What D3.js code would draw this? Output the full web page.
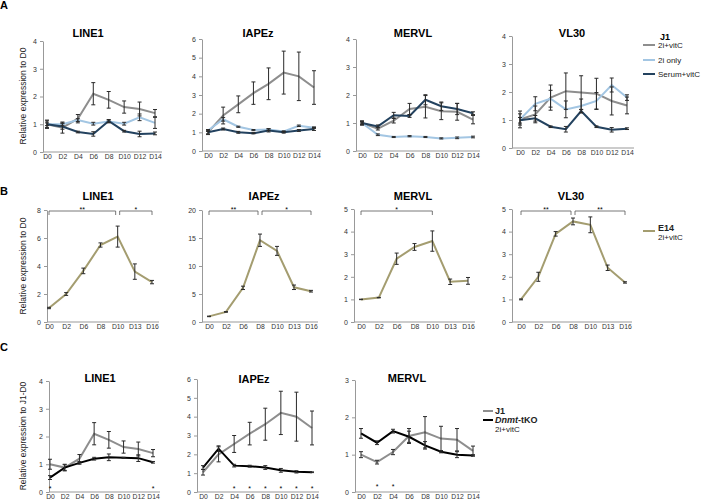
<!DOCTYPE html>
<html><head><meta charset="utf-8">
<script src="https://cdn.jsdelivr.net/npm/d3@7"></script>
<style>
body{margin:0;background:#fff}
text{font-family:"Liberation Sans",Arial,sans-serif}
</style>
</head><body>
<svg id="fig" width="701" height="502"></svg>
<script>
// categories
const daysA = ["D0","D2","D4","D6","D8","D10","D12","D14"];
const daysB = ["D0","D2","D6","D8","D10","D13","D16"];

// panel A: J1 in three conditions
const aLine1Vit = [1.0,0.88,1.2,2.1,1.88,1.62,1.55,1.4];
const aLine1VitErr = [0.15,0.2,0.15,0.4,0.3,0.22,0.25,0.13];
const aLine1Only = [1.0,1.0,1.15,1.02,1.1,1.02,1.25,1.05];
const aLine1OnlyErr = [0.05,0.05,0.05,0.05,0.05,0.05,0.12,0.2];
const aLine1Serum = [1.0,0.92,0.72,0.65,1.12,0.75,0.65,0.67];
const aLine1SerumErr = [0.12,0.1,0.03,0.08,0.05,0.03,0.1,0.05];

const aIapVit = [1.0,1.9,2.5,3.1,3.6,4.2,4.0,3.4];
const aIapVitErr = [0.12,0.45,0.45,0.6,0.85,1.15,1.3,0.9];
const aIapOnly = [1.1,1.7,1.3,1.12,1.15,1.05,1.35,1.25];
const aIapOnlyErr = [0.05,0.1,0.03,0.03,0.05,0.03,0.04,0.04];
const aIapSerum = [1.0,1.18,1.0,0.95,1.1,1.0,1.1,1.18];
const aIapSerumErr = [0.08,0.05,0.05,0.03,0.08,0.04,0.05,0.08];

const aMerVit = [1.0,0.8,1.08,1.5,1.58,1.42,1.4,1.12];
const aMerVitErr = [0.05,0.05,0.08,0.2,0.4,0.3,0.3,0.15];
const aMerOnly = [1.0,0.58,0.5,0.53,0.5,0.45,0.47,0.5];
const aMerOnlyErr = [0.03,0.03,0.02,0.02,0.02,0.02,0.03,0.03];
const aMerSerum = [1.0,0.88,1.28,1.25,1.83,1.6,1.5,1.35];
const aMerSerumErr = [0.08,0.05,0.1,0.05,0.18,0.15,0.2,0.05];

const aVlVit = [1.02,1.2,1.8,2.03,1.98,1.94,1.68,1.52];
const aVlVitErr = [0.3,0.3,0.45,0.65,0.6,0.55,0.5,0.3];
const aVlOnly = [1.02,1.58,1.76,1.38,1.5,1.68,2.25,1.8];
const aVlOnlyErr = [0.2,0.25,0.3,0.3,0.25,0.3,0.25,0.1];
const aVlSerum = [0.99,1.06,0.76,0.67,1.32,0.76,0.65,0.69];
const aVlSerumErr = [0.1,0.1,0.03,0.1,0.05,0.03,0.08,0.03];

// panel B: E14 2i+vitC
const bLine1 = [1.0,2.0,3.65,5.5,6.1,3.6,2.85];
const bLine1Err = [0.05,0.1,0.2,0.15,0.75,0.55,0.12];
const bIap = [1.0,1.8,6.1,14.6,12.7,6.2,5.5];
const bIapErr = [0.05,0.05,0.3,1.1,0.8,0.4,0.15];
const bMer = [1.0,1.08,2.8,3.32,3.58,1.78,1.82];
const bMerErr = [0.01,0.01,0.25,0.15,0.45,0.12,0.15];
const bVl = [1.0,2.0,3.9,4.45,4.3,2.4,1.75];
const bVlErr = [0.02,0.2,0.1,0.15,0.35,0.12,0.03];

const bLine1Sig = [["D0","D10","**"],["D10","D16","*"]];
const bIapSig = [["D0","D8","**"],["D8","D16","*"]];
const bMerSig = [["D0","D10","*"]];
const bVlSig = [["D0","D8","**"],["D8","D16","**"]];

// panel C: J1 vs Dnmt-tKO
const cLine1J1 = [1.0,0.88,1.2,2.1,1.88,1.62,1.55,1.4];
const cLine1J1Err = [0.18,0.12,0.15,0.4,0.3,0.22,0.25,0.13];
const cLine1Tko = [0.52,0.88,1.05,1.2,1.25,1.23,1.22,1.07];
const cLine1TkoErr = [0.07,0.1,0.05,0.05,0.12,0.02,0.12,0.03];
const cIapJ1 = [1.05,2.0,2.55,3.1,3.6,4.2,4.0,3.4];
const cIapJ1Err = [0.15,0.4,0.45,0.6,0.85,1.15,1.3,0.9];
const cIapTko = [1.3,2.3,1.4,1.37,1.3,1.15,1.07,1.05];
const cIapTkoErr = [0.1,0.15,0.07,0.05,0.1,0.1,0.06,0.02];
const cMerJ1 = [1.0,0.8,1.07,1.5,1.6,1.43,1.4,1.1];
const cMerJ1Err = [0.08,0.05,0.07,0.2,0.42,0.33,0.3,0.13];
const cMerTko = [1.57,1.32,1.63,1.48,1.25,1.08,1.0,0.98];
const cMerTkoErr = [0.13,0.05,0.05,0.15,0.1,0.03,0.08,0.02];

const cLine1Stars = ["D0","D14"];
const cIapStars = ["D4","D6","D8","D10","D12","D14"];
const cMerStars = ["D2","D4"];

const col = {vit:"#8e8e8e", only:"#a3c6e3", serum:"#23425f", olive:"#a49d70", tko:"#000"};

const svg = d3.select("#fig");

function drawChart(c) {
    const x = d3.scalePoint().domain(c.days).range(c.xr);
    const y = d3.scaleLinear().domain([0, c.max]).range([c.y0, c.yTop]);
    const g = svg.append("g");

    // y axis
    const ya = g.append("g").attr("transform", `translate(${c.ax},0)`)
        .call(d3.axisLeft(y).tickValues(c.ticks).tickFormat(d3.format("d"))
            .tickSize(3).tickPadding(3).tickSizeOuter(0));
    ya.select(".domain").attr("stroke", "#999");
    ya.selectAll(".tick line").attr("stroke", "#999");
    ya.selectAll("text").attr("font-size", 7).attr("fill", "#333");

    // x axis, line drawn from y axis to past last point
    const xa = g.append("g").attr("transform", `translate(0,${c.y0})`)
        .call(d3.axisBottom(x).tickSize(0).tickPadding(2.5));
    xa.select(".domain").remove();
    xa.selectAll("text").attr("font-size", 6.8).attr("fill", "#333");
    g.append("line").attr("x1", c.ax).attr("x2", c.xr[1] + 7)
        .attr("y1", c.y0).attr("y2", c.y0).attr("stroke", "#999");

    g.append("text").attr("x", c.tx).attr("y", c.ty).attr("text-anchor", "middle")
        .attr("font-size", 11).attr("font-weight", "bold").text(c.title);

    const line = d3.line().x((d, i) => x(c.days[i])).y(d => y(d));
    c.series.forEach(s => {
        g.append("path").datum(s.v).attr("d", line).attr("fill", "none")
            .attr("stroke", s.color).attr("stroke-width", s.w || 2);
    });
    c.series.forEach(s => {
        const eb = g.append("g").attr("stroke", "#2a2a2a").attr("stroke-width", 1);
        s.v.forEach((v, i) => {
            const xi = x(c.days[i]), lo = y(v - s.e[i]), hi = y(v + s.e[i]);
            eb.append("line").attr("x1", xi).attr("x2", xi).attr("y1", lo).attr("y2", hi);
            eb.append("line").attr("x1", xi - 2).attr("x2", xi + 2).attr("y1", lo).attr("y2", lo);
            eb.append("line").attr("x1", xi - 2).attr("x2", xi + 2).attr("y1", hi).attr("y2", hi);
        });
    });

    // significance brackets
    (c.sig || []).forEach(([a, b, lab], k) => {
        const x1 = x(a) + (k > 0 ? 2 : 0), x2 = x(b) - (k === 0 && c.sig.length > 1 ? 2 : 0);
        g.append("path").attr("fill", "none").attr("stroke", "#555").attr("stroke-width", 0.8)
            .attr("d", `M${x1},${c.sigY + 4}V${c.sigY}H${x2}V${c.sigY + 4}`);
        g.append("text").attr("x", (x1 + x2) / 2).attr("y", c.sigY + 1).attr("text-anchor", "middle")
            .attr("font-size", 7).text(lab);
    });
    (c.stars || []).forEach(d => {
        g.append("text").attr("x", x(d)).attr("y", c.starY).attr("text-anchor", "middle")
            .attr("font-size", 7).text("*");
    });
}

const charts = [
    {title:"LINE1", tx:88, ty:37, days:daysA, max:4, ticks:[0,1,2,3,4], ax:43, xr:[47,155], y0:152, yTop:41,
     series:[{v:aLine1Vit,e:aLine1VitErr,color:col.vit},{v:aLine1Only,e:aLine1OnlyErr,color:col.only},{v:aLine1Serum,e:aLine1SerumErr,color:col.serum}]},
    {title:"IAPEz", tx:258, ty:37, days:daysA, max:6, ticks:[0,1,2,3,4,5,6], ax:202, xr:[208,314], y0:151, yTop:39,
     series:[{v:aIapVit,e:aIapVitErr,color:col.vit},{v:aIapOnly,e:aIapOnlyErr,color:col.only},{v:aIapSerum,e:aIapSerumErr,color:col.serum}]},
    {title:"MERVL", tx:413, ty:37, days:daysA, max:4, ticks:[0,1,2,3,4], ax:356, xr:[362,473], y0:151, yTop:39,
     series:[{v:aMerVit,e:aMerVitErr,color:col.vit},{v:aMerOnly,e:aMerOnlyErr,color:col.only},{v:aMerSerum,e:aMerSerumErr,color:col.serum}]},
    {title:"VL30", tx:572, ty:37, days:daysA, max:4, ticks:[0,1,2,3,4], ax:512, xr:[520,627], y0:148, yTop:36,
     series:[{v:aVlVit,e:aVlVitErr,color:col.vit},{v:aVlOnly,e:aVlOnlyErr,color:col.only},{v:aVlSerum,e:aVlSerumErr,color:col.serum}]},

    {title:"LINE1", tx:98, ty:200, days:daysB, max:8, ticks:[0,2,4,6,8], ax:47, xr:[49,152], y0:322, yTop:210,
     series:[{v:bLine1,e:bLine1Err,color:col.olive}], sig:bLine1Sig, sigY:211},
    {title:"IAPEz", tx:264, ty:200, days:daysB, max:20, ticks:[0,5,10,15,20], ax:202, xr:[209,311], y0:322, yTop:210,
     series:[{v:bIap,e:bIapErr,color:col.olive}], sig:bIapSig, sigY:211},
    {title:"MERVL", tx:413, ty:200, days:daysB, max:5, ticks:[0,1,2,3,4,5], ax:354, xr:[361,468], y0:322, yTop:209,
     series:[{v:bMer,e:bMerErr,color:col.olive}], sig:bMerSig, sigY:211},
    {title:"VL30", tx:571, ty:200, days:daysB, max:5, ticks:[0,1,2,3,4,5], ax:512, xr:[521,625], y0:322, yTop:209,
     series:[{v:bVl,e:bVlErr,color:col.olive}], sig:bVlSig, sigY:211},

    {title:"LINE1", tx:100, ty:382, days:daysA, max:4, ticks:[0,1,2,3,4], ax:49, xr:[50,153], y0:492, yTop:381,
     series:[{v:cLine1J1,e:cLine1J1Err,color:col.vit},{v:cLine1Tko,e:cLine1TkoErr,color:col.tko}], stars:cLine1Stars, starY:491},
    {title:"IAPEz", tx:254, ty:383, days:daysA, max:6, ticks:[0,1,2,3,4,5,6], ax:197, xr:[203,312], y0:492, yTop:379,
     series:[{v:cIapJ1,e:cIapJ1Err,color:col.vit},{v:cIapTko,e:cIapTkoErr,color:col.tko}], stars:cIapStars, starY:491},
    {title:"MERVL", tx:407, ty:382, days:daysA, max:3, ticks:[0,1,2,3], ax:355, xr:[361,473], y0:492, yTop:380,
     series:[{v:cMerJ1,e:cMerJ1Err,color:col.vit},{v:cMerTko,e:cMerTkoErr,color:col.tko}], stars:cMerStars, starY:489}
];
charts.forEach(drawChart);

// panel letters
[["A",9],["B",195],["C",351]].forEach(([t, yy]) =>
    svg.append("text").attr("x", 0).attr("y", yy).attr("font-size", 11).attr("font-weight", "bold").text(t));

// y axis titles
[["Relative expression to D0",96],["Relative expression to D0",266],["Relative expression to J1-D0",436]].forEach(([t, cy]) =>
    svg.append("text").attr("transform", `translate(26,${cy}) rotate(-90)`).attr("text-anchor", "middle")
        .attr("font-size", 8.5).attr("fill", "#222").text(t));

// legends
function legendLine(x1, x2, yy, color) {
    svg.append("line").attr("x1", x1).attr("x2", x2).attr("y1", yy).attr("y2", yy)
        .attr("stroke", color).attr("stroke-width", 2);
}
function label(xx, yy, t, bold) {
    return svg.append("text").attr("x", xx).attr("y", yy).attr("font-size", 8)
        .attr("font-weight", bold ? "bold" : "normal").attr("fill", "#222").text(t);
}
svg.append("text").attr("x", 665).attr("y", 40).attr("text-anchor", "middle")
    .attr("font-size", 9).attr("font-weight", "bold").text("J1");
[["2i+vitC",45,col.vit],["2i only",60,col.only],["Serum+vitC",74,col.serum]].forEach(([t, yy, c]) => {
    legendLine(643, 655, yy, c);
    label(658, yy + 3, t);
});

legendLine(643, 655, 231, col.olive);
label(658, 231, "E14", true).attr("font-size", 9);
label(658, 240, "2i+vitC");

legendLine(483, 493, 411, col.vit);
label(495, 414, "J1", true).attr("font-size", 9);
legendLine(483, 493, 420, col.tko);
const tko = label(495, 423, "", true).attr("font-size", 9);
tko.append("tspan").attr("font-style", "italic").text("Dnmt");
tko.append("tspan").text("-tKO");
label(495, 432, "2i+vitC");
</script>
</body></html>
